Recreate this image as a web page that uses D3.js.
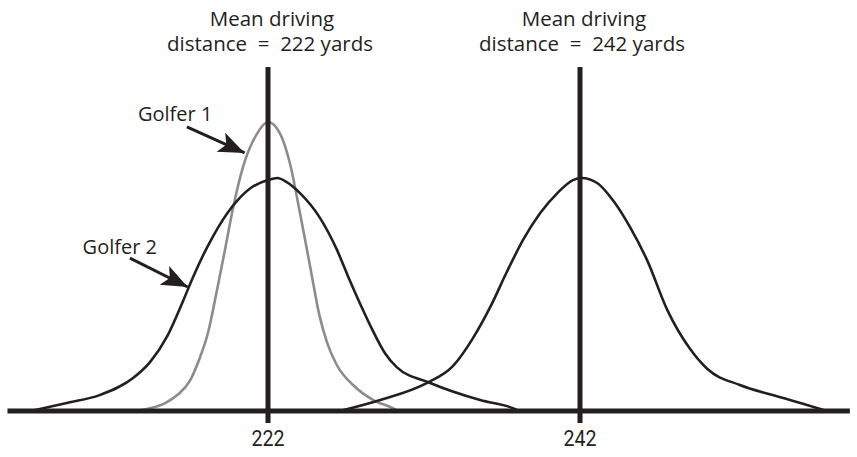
<!DOCTYPE html>
<html>
<head>
<meta charset="utf-8">
<script src="https://cdn.jsdelivr.net/npm/d3@7"></script>
<style>
  html, body { margin: 0; padding: 0; background: #fff; }
  svg { display: block; }
  text { fill: #231f20; }
</style>
</head>
<body>
<svg id="chart" width="857" height="457"></svg>
<script>
// Driving distance (yards) and relative frequency (peak of golfer 1 = 100)
const golfer1Yards = [213.5, 214.5, 215.5, 216.2, 217.0, 217.6, 218.15, 218.7, 219.25, 219.75, 220.4, 221.3, 222.0, 222.75, 223.4, 224.05, 224.7, 225.3, 225.8, 226.4, 227.45, 228.75, 230.0, 230.35];
const golfer1Freq  = [0, 1.0, 3.0, 5.6, 10.5, 18.0, 27.0, 41.0, 56.0, 70.0, 84.5, 96.0, 100, 96.2, 85.8, 68.5, 50.0, 33.0, 23.5, 16.0, 9.0, 3.8, 1.0, 0];

const golfer2Yards = [206.8, 209.1, 211.2, 213.35, 214.45, 215.55, 216.55, 217.2, 218.45, 219.75, 220.85, 222.0, 222.6, 223.2, 224.05, 225.3, 226.4, 227.1, 228.0, 228.7, 229.5, 230.25, 232.4, 235.6, 237.7, 238.15];
const golfer2Freq  = [0, 2.8, 5.5, 11.4, 17.0, 26.0, 38.0, 46.4, 60.2, 71.0, 77.0, 79.9, 80.6, 79.2, 75.4, 67.1, 56.0, 47.0, 36.0, 28.0, 20.0, 15.2, 9.7, 3.8, 1.0, 0];

const longerYards = [226.6, 229.2, 232.2, 233.85, 235.15, 236.25, 237.3, 238.35, 239.45, 240.55, 241.55, 242.1, 243.1, 244.1, 245.2, 246.3, 247.6, 249.05, 250.15, 252.25, 254.35, 256.55, 257.85];
const longerFreq  = [0, 3.8, 9.7, 15.5, 25.3, 36.0, 48.0, 59.2, 68.5, 75.4, 79.9, 80.6, 78.9, 73.0, 63.7, 52.2, 34.9, 21.5, 14.6, 9.0, 5.5, 2.1, 0];

const meanYards = [222, 242];
const tickLabels = ["222", "242"];
const titleLine1 = ["Mean driving", "Mean driving"];
const titleLine2 = ["distance\u00A0 =\u00A0 222 yards", "distance\u00A0 =\u00A0 242 yards"];

// Annotation labels with arrow start/tip, in data units
const noteLabels = ["Golfer 1", "Golfer 2"];
const noteText   = [[216.05, 100.3], [212.5, 54.3]];
const noteFrom   = [[216.8, 98.3], [213.15, 52.9]];
const noteTip    = [[220.5, 89.3], [216.85, 42.9]];

const svg = d3.select("#chart");
const ink = "#231f20";
const grey = "#8c8c8c";

const x = d3.scaleLinear().domain([222, 242]).range([268, 580]);
const y = d3.scaleLinear().domain([0, 100]).range([411, 122]);
const axisStart = 205.3, axisEnd = 259.3;

const line = d3.line()
  .x(d => x(d[0]))
  .y(d => y(d[1]))
  .curve(d3.curveMonotoneX);

const zip = (a, b) => a.map((v, i) => [v, b[i]]);

// distribution curves
svg.append("path")
  .attr("d", line(zip(golfer1Yards, golfer1Freq)))
  .attr("fill", "none").attr("stroke", grey).attr("stroke-width", 2.6);

[zip(golfer2Yards, golfer2Freq), zip(longerYards, longerFreq)].forEach(pts => {
  svg.append("path")
    .attr("d", line(pts))
    .attr("fill", "none").attr("stroke", ink).attr("stroke-width", 2.6);
});

// mean lines (run a little below the axis as ticks)
svg.selectAll(".mean")
  .data(meanYards)
  .join("line")
  .attr("class", "mean")
  .attr("x1", d => x(d)).attr("x2", d => x(d))
  .attr("y1", 67).attr("y2", y(0) + 12)
  .attr("stroke", ink).attr("stroke-width", 5);

// horizontal axis
svg.append("line")
  .attr("x1", x(axisStart)).attr("x2", x(axisEnd))
  .attr("y1", y(0)).attr("y2", y(0))
  .attr("stroke", ink).attr("stroke-width", 5);

// tick labels
svg.selectAll(".tick-label")
  .data(meanYards)
  .join("text")
  .attr("class", "tick-label")
  .attr("x", d => x(d)).attr("y", 446)
  .attr("text-anchor", "middle")
  .attr("font-family", "'Liberation Sans Narrow', Roboto, sans-serif")
  .attr("font-size", 22)
  .attr("textLength", 33).attr("lengthAdjust", "spacingAndGlyphs")
  .text((d, i) => tickLabels[i]);

// titles above each mean line
const titleFont = "'Open Sans', 'Noto Sans', sans-serif";
svg.selectAll(".title1")
  .data(meanYards)
  .join("text")
  .attr("class", "title1")
  .attr("x", d => x(d) + 4).attr("y", 26)
  .attr("text-anchor", "middle")
  .attr("font-family", titleFont).attr("font-size", 20.5)
  .text((d, i) => titleLine1[i]);

svg.selectAll(".title2")
  .data(meanYards)
  .join("text")
  .attr("class", "title2")
  .attr("x", d => x(d) + 2).attr("y", 51)
  .attr("text-anchor", "middle")
  .attr("font-family", titleFont).attr("font-size", 20.5)
  .text((d, i) => titleLine2[i]);

// arrow heads
svg.append("defs").append("marker")
  .attr("id", "head")
  .attr("viewBox", "-28 -12 30 24")
  .attr("markerUnits", "userSpaceOnUse")
  .attr("markerWidth", 30).attr("markerHeight", 24)
  .attr("refX", 0).attr("refY", 0)
  .attr("orient", "auto")
  .append("path")
  .attr("d", "M0,0 L-26,-10.5 L-20,0 L-26,10.5 Z")
  .attr("fill", ink);

noteLabels.forEach((lab, i) => {
  svg.append("text")
    .attr("x", x(noteText[i][0])).attr("y", y(noteText[i][1]))
    .attr("text-anchor", "middle")
    .attr("font-family", titleFont).attr("font-size", 20)
    .text(lab);
  svg.append("line")
    .attr("x1", x(noteFrom[i][0])).attr("y1", y(noteFrom[i][1]))
    .attr("x2", x(noteTip[i][0])).attr("y2", y(noteTip[i][1]))
    .attr("stroke", ink).attr("stroke-width", 3)
    .attr("marker-end", "url(#head)");
});
</script>
</body>
</html>
